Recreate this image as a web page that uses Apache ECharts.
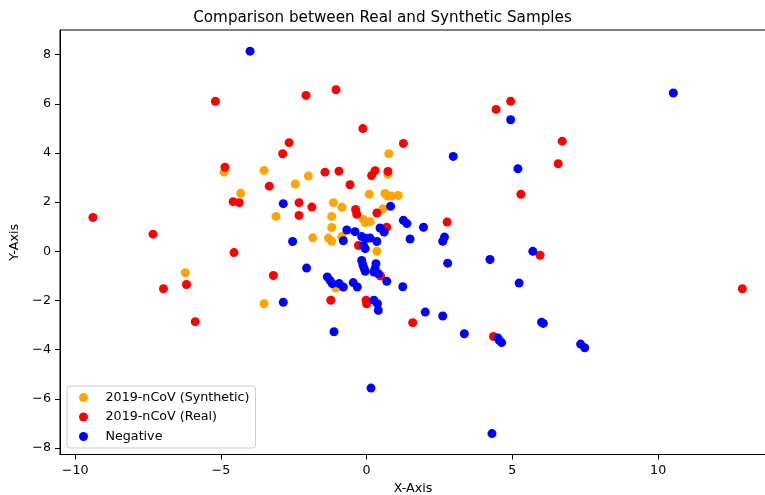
<!DOCTYPE html>
<html>
<head>
<meta charset="utf-8">
<script src="https://cdn.jsdelivr.net/npm/echarts@6/dist/echarts.min.js"></script>
<style>
html, body { margin: 0; padding: 0; background: #fff; }
#chartmain { width: 765px; height: 495px; }
</style>
</head>
<body>
<div id="chartmain"></div>
<script>
// data
var synthetic = [
	[-4.89, 3.22], [-3.52, 3.29], [-2.45, 2.74], [-2.0, 3.06], [-4.32, 2.36], [-3.11, 1.42],
	[-1.85, 0.55], [-6.22, -0.87], [-3.52, -2.13], [0.76, 3.97], [0.73, 3.13], [0.09, 2.32],
	[0.63, 2.35], [0.72, 2.25], [0.85, 2.25], [1.08, 2.27], [0.56, 1.73], [-1.14, 1.98],
	[-0.85, 1.79], [-1.2, 1.42], [-1.2, 0.97], [-0.11, 1.29], [-0.05, 1.17], [0.12, 1.2],
	[-1.31, 0.54], [-1.2, 0.41], [0.35, 0.0], [-1.06, -1.49], [-0.85, 0.6]
];
var real = [
	[-5.19, 6.10], [-2.08, 6.34], [-2.66, 4.42], [-2.88, 3.97], [-4.86, 3.42], [-3.34, 2.65],
	[-4.58, 2.02], [-4.37, 1.98], [-2.32, 1.98], [-1.88, 1.80], [-2.32, 1.46], [-9.39, 1.38],
	[-7.33, 0.70], [-4.55, -0.05], [-6.18, -1.35], [-6.97, -1.52], [-3.2, -0.98], [-5.88, -2.86],
	[6.71, 4.48], [6.57, 3.56], [5.95, -0.16], [12.89, -1.52], [-1.05, 6.57], [-0.13, 4.99],
	[1.26, 4.39], [4.44, 5.77], [4.94, 6.10], [5.29, 2.32], [2.76, 1.19], [-1.43, 3.22],
	[-0.95, 3.26], [-0.57, 2.71], [0.29, 3.28], [0.17, 3.08], [0.73, 3.25], [0.35, 1.56],
	[-0.38, 1.70], [-0.34, 1.51], [0.69, 0.98], [-0.28, 0.24], [0.48, -1.0], [-1.23, -1.99],
	[-0.02, -1.99], [0.0, -2.13], [1.58, -2.9], [4.35, -3.46]
];
var negative = [
	[-4.0, 8.14], [-2.86, 1.94], [-2.54, 0.4], [-2.06, -0.68], [-2.86, -2.07], [10.52, 6.44],
	[6.0, -2.88], [6.06, -2.93], [7.34, -3.77], [7.48, -3.92], [2.97, 3.86], [4.94, 5.35],
	[5.19, 3.36], [0.82, 1.83], [1.26, 1.26], [1.38, 1.13], [1.95, 0.98], [0.46, 0.95],
	[0.6, 0.78], [1.49, 0.5], [2.67, 0.58], [2.61, 0.41], [-0.68, 0.87], [-0.4, 0.8],
	[-0.8, 0.43], [-0.17, 0.6], [0.0, 0.53], [0.12, 0.54], [0.35, 0.4], [-0.11, 0.24],
	[-0.05, 0.11], [2.78, -0.48], [-0.17, -0.37], [-0.13, -0.54], [-0.09, -0.68], [-0.05, -0.81],
	[0.32, -0.5], [0.29, -0.7], [0.25, -0.84], [0.4, -0.91], [0.69, -1.22], [1.24, -1.44],
	[-1.35, -1.04], [-1.26, -1.18], [-1.18, -1.31], [-0.94, -1.31], [-0.8, -1.45], [-0.46, -1.27],
	[-0.32, -1.45], [0.25, -1.99], [0.37, -2.13], [0.4, -2.4], [2.01, -2.47], [2.61, -2.63],
	[4.23, -0.33], [5.7, 0.0], [5.23, -1.29], [3.35, -3.35], [4.5, -3.52], [4.55, -3.62],
	[4.63, -3.71], [-1.12, -3.27], [0.15, -5.56], [4.3, -7.41]
];
var xTicks = [-10, -5, 0, 5, 10];
var yTicks = [-8, -6, -4, -2, 0, 2, 4, 6, 8];
var seriesNames = ['2019-nCoV (Synthetic)', '2019-nCoV (Real)', 'Negative'];

var font = 'DejaVu Sans';
function minus(v) {
	return String(v).replace('-', '\u2212');
}
function axisStyle() {
	return {
		axisLine : { show : true, onZero : false, lineStyle : { color : '#000', width : 1 } },
		axisTick : { show : true, length : 5, lineStyle : { color : '#000' } },
		splitLine : { show : false },
		nameTextStyle : { color : '#000', fontFamily : font, fontSize : 12.7 }
	};
}
var xAxis = axisStyle();
xAxis.type = 'value';
xAxis.min = -10.52;
xAxis.max = 13.7;
xAxis.name = 'X-Axis';
xAxis.nameLocation = 'middle';
xAxis.nameGap = 26;
xAxis.axisTick.customValues = xTicks;
xAxis.axisLabel = { customValues : xTicks, formatter : minus, color : '#000', fontFamily : font, fontSize : 12.7, margin : 10 };

var yAxis = axisStyle();
yAxis.type = 'value';
yAxis.min = -8.26;
yAxis.max = 9.0;
yAxis.name = 'Y-Axis';
yAxis.nameLocation = 'middle';
yAxis.nameRotate = 90;
yAxis.nameGap = 34;
yAxis.axisTick.customValues = yTicks;
yAxis.axisLabel = { customValues : yTicks, formatter : minus, color : '#000', fontFamily : font, fontSize : 12.7, margin : 9 };

var option = {
	animation : false,
	title : {
		text : 'Comparison between Real and Synthetic Samples',
		left : 'center',
		top : 6,
		textStyle : { color : '#000', fontFamily : font, fontSize : 15.2, fontWeight : 'normal' }
	},
	grid : {
		left : 60, top : 30, width : 706, height : 424.5,
		outerBoundsMode : 'none',
		containLabel : false,
		show : true, borderColor : '#000', borderWidth : 1, backgroundColor : 'transparent'
	},
	legend : {
		data : seriesNames,
		orient : 'vertical',
		left : 67, top : 386,
		icon : 'circle',
		itemWidth : 34, itemHeight : 9, itemGap : 6.5,
		padding : [5, 6, 5, 12],
		borderColor : '#ccc', borderWidth : 1, borderRadius : 3,
		backgroundColor : 'rgba(255,255,255,0.8)',
		textStyle : { color : '#000', fontFamily : font, fontSize : 12.7, lineHeight : 13 }
	},
	xAxis : xAxis,
	yAxis : yAxis,
	series : [
		{ name : seriesNames[0], type : 'scatter', data : synthetic, symbolSize : 9, itemStyle : { color : '#FFA500', opacity : 1 } },
		{ name : seriesNames[1], type : 'scatter', data : real, symbolSize : 9, itemStyle : { color : '#FF0000', opacity : 1 } },
		{ name : seriesNames[2], type : 'scatter', data : negative, symbolSize : 9, itemStyle : { color : '#0000FF', opacity : 1 } }
	]
};
var myChart = echarts.init(document.getElementById('chartmain'));
myChart.setOption(option);
</script>
</body>
</html>
